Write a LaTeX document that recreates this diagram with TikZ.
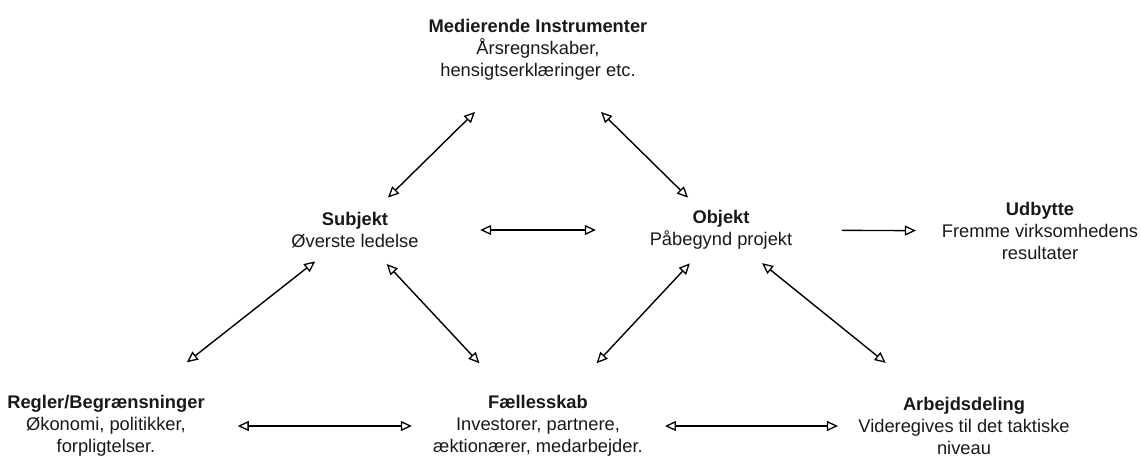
\documentclass[tikz,border=0pt]{standalone}
\usepackage{fontspec}
\setmainfont{Liberation Sans}
\usetikzlibrary{arrows.meta,calc}

\tikzset{
  concept/.style={align=center, inner sep=0pt, text=black!90,
    font=\fontsize{18.3}{22}\selectfont},
  link/.style={line width=1.4pt, draw=black},
  both/.style={link, {Triangle[open,length=11pt,width=10pt,line width=1.3pt]}-{Triangle[open,length=11pt,width=10pt,line width=1.3pt]}},
  onward/.style={link, -{Triangle[open,length=11pt,width=10pt,line width=1.3pt]}}
}

\begin{document}
\begin{tikzpicture}[x=1pt,y=-1pt]
\useasboundingbox (0,0) rectangle (1141,456);

% activity system elements
\node[concept] (med) at (538,50)  {\textbf{Medierende Instrumenter}\\Årsregnskaber,\\hensigtserklæringer etc.};
\node[concept] (sub) at (355,230) {\textbf{Subjekt}\\Øverste ledelse};
\node[concept] (obj) at (721,230) {\textbf{Objekt}\\Påbegynd projekt};
\node[concept] (udb) at (1040,231) {\textbf{Udbytte}\\Fremme virksomhedens\\resultater};
\node[concept] (reg) at (106,426) {\textbf{Regler/Begrænsninger}\\Økonomi, politikker,\\forpligtelser.};
\node[concept] (fae) at (538,426) {\textbf{Fællesskab}\\Investorer, partnere,\\æktionærer, medarbejder.};
\node[concept] (arb) at (964,426) {\textbf{Arbejdsdeling}\\Videregives til det taktiske\\niveau};

% relations between the elements
\draw[both] ($(sub)!0.18!(med)$) -- ($(sub)!0.656!(med)$);
\draw[both] ($(med)!0.344!(obj)$) -- ($(med)!0.82!(obj)$);
\draw[both] ($(sub)!0.342!(obj)$) -- ($(sub)!0.658!(obj)$);
\draw[onward] ($(obj)!0.379!(udb)$) -- ($(obj)!0.611!(udb)$);
\draw[both] ($(sub)!0.16!(reg)$) -- ($(sub)!0.675!(reg)$);
\draw[both] ($(sub)!0.173!(fae)$) -- ($(sub)!0.68!(fae)$);
\draw[both] ($(obj)!0.17!(fae)$) -- ($(obj)!0.68!(fae)$);
\draw[both] ($(obj)!0.169!(arb)$) -- ($(obj)!0.678!(arb)$);
\draw[both] ($(reg)!0.305!(fae)$) -- ($(reg)!0.708!(fae)$);
\draw[both] ($(fae)!0.298!(arb)$) -- ($(fae)!0.704!(arb)$);
\end{tikzpicture}
\end{document}
